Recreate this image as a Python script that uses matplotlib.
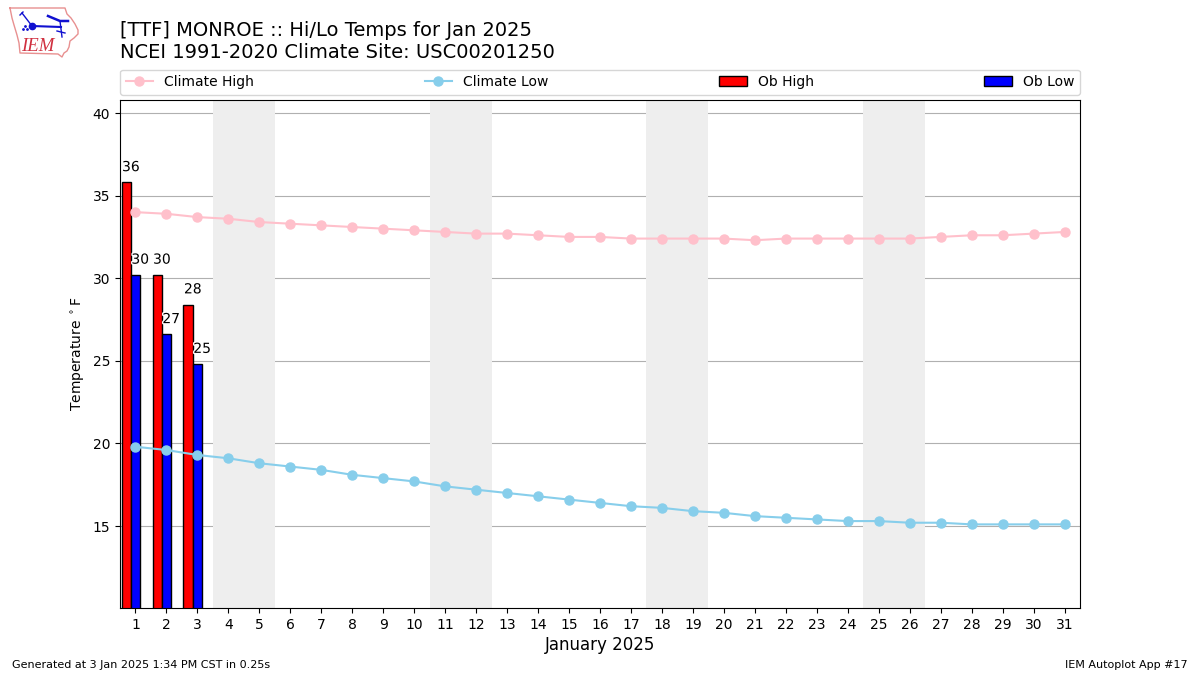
import matplotlib
matplotlib.use("Agg")
import matplotlib.pyplot as plt
import matplotlib.patheffects as pe

days = list(range(1, 32))
climate_high = [34.0, 33.9, 33.7, 33.6, 33.4, 33.3, 33.2, 33.1, 33.0, 32.9, 32.8,
                32.7, 32.7, 32.6, 32.5, 32.5, 32.4, 32.4, 32.4, 32.4, 32.3, 32.4,
                32.4, 32.4, 32.4, 32.4, 32.5, 32.6, 32.6, 32.7, 32.8]
climate_low = [19.8, 19.6, 19.3, 19.1, 18.8, 18.6, 18.4, 18.1, 17.9, 17.7, 17.4,
               17.2, 17.0, 16.8, 16.6, 16.4, 16.2, 16.1, 15.9, 15.8, 15.6, 15.5,
               15.4, 15.3, 15.3, 15.2, 15.2, 15.1, 15.1, 15.1, 15.1]
ob_days = [1, 2, 3]
ob_high = [35.8, 30.2, 28.4]
ob_low = [30.2, 26.6, 24.8]
weekends = [(4, 5), (11, 12), (18, 19), (25, 26)]

fig = plt.figure(figsize=(12, 6.75), dpi=100)
ax = fig.add_axes([0.1, 0.0993, 0.8, 0.7526])

for first, last in weekends:
    ax.axvspan(first - 0.5, last + 0.5, color="#eeeeee", lw=0, zorder=1)
ax.grid(axis="y", color="#b0b0b0", lw=0.8, zorder=1.5)
ax.set_axisbelow(True)

ax.bar([d - 0.3 for d in ob_days], ob_high, width=0.3, color="red", edgecolor="k",
       lw=1, label="Ob High", zorder=2)
ax.bar(ob_days, ob_low, width=0.3, color="blue", edgecolor="k",
       lw=1, label="Ob Low", zorder=2)
ax.plot(days, climate_high, color="pink", marker="o", lw=1.5, ms=6.5,
        label="Climate High", zorder=3)
ax.plot(days, climate_low, color="skyblue", marker="o", lw=1.5, ms=6.5,
        label="Climate Low", zorder=3)

halo = [pe.withStroke(linewidth=2, foreground="white")]
for d, hi, lo in zip(ob_days, ob_high, ob_low):
    ax.text(d - 0.15, hi + 0.5, f"{hi:.0f}", ha="center", va="bottom", fontsize=10,
            path_effects=halo, zorder=4)
    ax.text(d + 0.15, lo + 0.5, f"{lo:.0f}", ha="center", va="bottom", fontsize=10,
            path_effects=halo, zorder=4)

ax.set_xlim(0.5, 31.5)
ax.set_ylim(10.04, 40.79)
ax.set_xticks(days)
ax.set_yticks([15, 20, 25, 30, 35, 40])
ax.set_ylabel(r"Temperature $^\circ$F")
ax.set_xlabel("January 2025", fontsize=12, labelpad=3)

handles, labels = ax.get_legend_handles_labels()
order = [labels.index(n) for n in ["Climate High", "Climate Low", "Ob High", "Ob Low"]]
ax.legend([handles[i] for i in order], [labels[i] for i in order], ncol=4, mode="expand",
          loc="lower left", bbox_to_anchor=(0, 1.0105, 1, 0.05), borderaxespad=0, fontsize=10)

fig.text(0.1, 0.9085, "[TTF] MONROE :: Hi/Lo Temps for Jan 2025\nNCEI 1991-2020 Climate Site: USC00201250",
         fontsize=14, ha="left", va="bottom", linespacing=1.2)
fig.text(0.01, 0.0075, "Generated at 3 Jan 2025 1:34 PM CST in 0.25s", fontsize=8, ha="left", va="bottom")
fig.text(0.99, 0.0075, "IEM Autoplot App #17", fontsize=8, ha="right", va="bottom")

# rough redraw of the IEM logo, pixel coordinates of the figure
logo = fig.add_axes([0, 0, 1, 1], facecolor="none")
logo.set_xlim(0, 1200)
logo.set_ylim(675, 0)
logo.axis("off")
outline_x = [10, 65, 67, 71, 75, 78, 78, 74, 70, 69, 67, 64, 62, 58, 20, 19, 17, 14, 12, 10]
outline_y = [8, 8, 14, 18, 24, 30, 34, 38, 41, 47, 51, 53, 57, 54, 53, 43, 35, 25, 18, 8]
logo.plot(outline_x, outline_y, color="#e89090", lw=1)
logo.plot([32, 61], [26, 27], color="#1010d0", lw=1.5)
logo.plot([22, 32], [13, 26], color="#1010d0", lw=1)
logo.plot([20, 23], [15, 12], color="#1010d0", lw=1)
logo.plot([48, 60, 68], [16, 21, 21], color="#1010d0", lw=1.8)
logo.plot([60, 62], [21, 37], color="#1010d0", lw=1)
logo.plot([57, 65], [31, 33], color="#1010d0", lw=1)
logo.plot([32], [26], "o", color="#1010d0", ms=4.5)
logo.plot([23, 25, 27], [29, 26, 29], ".", color="#1010d0", ms=2)
logo.text(21, 51, "IEM", color="#d03040", fontsize=13.5, style="italic", family="Liberation Serif",
          ha="left", va="baseline")

fig.savefig("out.png", dpi=100)
